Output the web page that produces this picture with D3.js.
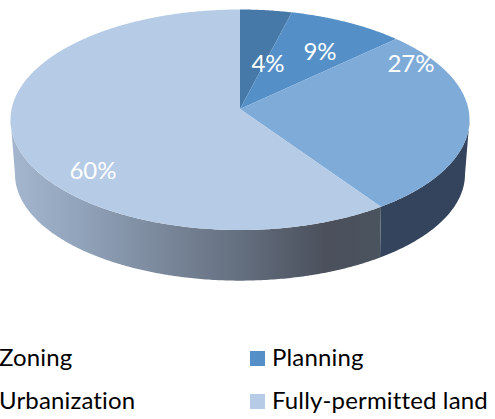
<!DOCTYPE html>
<html><head><meta charset="utf-8">
<script src="https://cdnjs.cloudflare.com/ajax/libs/d3/7.8.5/d3.min.js"></script>
<style>html,body{margin:0;padding:0;background:#fff;overflow:hidden}svg{display:block}</style>
</head><body><svg id="c" width="495" height="419"></svg>
<script>
const categories = ["Zoning", "Planning", "Urbanization", "Fully-permitted land"];
const values = [4, 9, 27.4, 59.6];
const topColors = ["#4679a8", "#5490c7", "#7fabd9", "#b5cbe6"];

const svg = d3.select("#c");
const font = "Lato,'Noto Sans',sans-serif";
const arcs = d3.pie().sort(null).value(d => d)(values);

// perspective projection of a tilted disc
const topFace = {cx: 240, cy: 109, R: 228.4, k: 109.2, p: 0.0976};
const botFace = {cx: 240, cy: 162, R: 223.5, k: 105, p: 0.115};
const project = (f, a) => {
  const w = 1 + f.p * Math.cos(a);
  return [f.cx + f.R * Math.sin(a) / w, f.cy - f.k * Math.cos(a) / w];
};
const line = d3.line();
const sweep = (f, a0, a1) => {
  const n = Math.max(2, Math.ceil(Math.abs(a1 - a0) / 0.01));
  return d3.range(n + 1).map(i => project(f, a0 + (a1 - a0) * i / n));
};

const defs = svg.append("defs");
const grad = defs.append("linearGradient").attr("id", "sideGrad")
  .attr("gradientUnits", "userSpaceOnUse").attr("x1", 10).attr("x2", 381).attr("y1", 0).attr("y2", 0);
[[0, "#a5b7ce"], [0.2, "#90a2b9"], [0.4, "#7b899c"], [0.62, "#646f7f"], [0.85, "#4b505c"], [1, "#4a545e"]]
  .forEach(([o, c]) => grad.append("stop").attr("offset", o).attr("stop-color", c));

// side walls: only the front of the rim is visible, between each face's silhouette tangents
const clampFront = (f, a) => Math.min(Math.max(a, Math.PI / 2 + Math.asin(f.p)), 3 * Math.PI / 2 - Math.asin(f.p));
arcs.forEach((d, i) => {
  if (d.endAngle <= Math.PI / 2 + Math.asin(topFace.p)) return;
  const t0 = clampFront(topFace, d.startAngle), t1 = clampFront(topFace, d.endAngle);
  const b0 = clampFront(botFace, d.startAngle), b1 = clampFront(botFace, d.endAngle);
  const pts = sweep(topFace, t0, t1).concat(sweep(botFace, b1, b0));
  svg.append("path").attr("d", line(pts) + "Z")
    .attr("fill", i === 3 ? "url(#sideGrad)" : "#33445c");
});

// top faces
arcs.forEach((d, i) => {
  const pts = [[topFace.cx, topFace.cy]].concat(sweep(topFace, d.startAngle, d.endAngle));
  svg.append("path").attr("d", line(pts) + "Z").attr("fill", topColors[i]);
});

// data labels
const labelOffsets = [[28, -37], [80, -49], [171, -37], [-147, 70]];
arcs.forEach((d, i) => {
  svg.append("text")
    .attr("x", topFace.cx + labelOffsets[i][0])
    .attr("y", topFace.cy + labelOffsets[i][1])
    .attr("text-anchor", "middle")
    .attr("font-family", font).attr("font-size", 24).attr("fill", "#fff")
    .text(Math.round(d.value) + "%");
});

// legend
const legendX = d3.scalePoint().domain([0, 1]).range([-23, 250]);
const legendY = d3.scalePoint().domain([0, 1]).range([351, 394]);
categories.forEach((c, i) => {
  const col = i % 2, row = Math.floor(i / 2);
  svg.append("rect").attr("x", legendX(col)).attr("y", legendY(row))
    .attr("width", 15).attr("height", 15).attr("fill", topColors[i]);
  svg.append("text").attr("x", legendX(col) + 22).attr("y", legendY(row) + 15)
    .attr("font-family", font).attr("font-size", 24).attr("letter-spacing", 0.15)
    .attr("fill", "#000").text(c);
});
</script></body></html>
